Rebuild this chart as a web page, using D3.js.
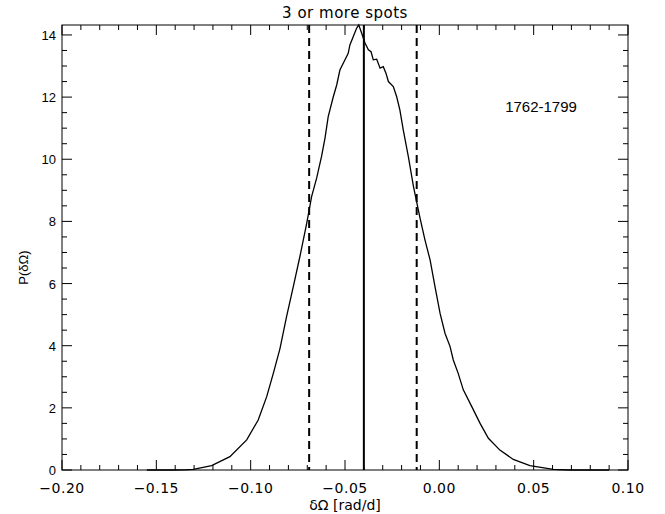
<!DOCTYPE html>
<html>
<head>
  <meta charset="utf-8">
  <script src="https://d3js.org/d3.v7.min.js"></script>
  <style>
    body { margin: 0; background: #fff; }
    text { fill: #000; }
  </style>
</head>
<body>
<script>
  // distribution of delta-Omega
  var dOmega = [-0.155, -0.141, -0.135, -0.1304, -0.1207, -0.111, -0.1021, -0.096, -0.0915, -0.088,
    -0.0845, -0.081, -0.0774, -0.0739, -0.0703, -0.0677, -0.065, -0.0624, -0.0606, -0.0589,
    -0.0562, -0.0544, -0.0527, -0.050, -0.0483, -0.0474, -0.0456, -0.0438, -0.0427, -0.0412,
    -0.0394, -0.0376, -0.0362, -0.035, -0.0332, -0.0314, -0.0297, -0.0283, -0.027, -0.0244,
    -0.0226, -0.0209, -0.0191, -0.0164, -0.0137, -0.0102, -0.0076, -0.0049, -0.0023, 0.0004,
    0.0030, 0.0057, 0.0074, 0.010, 0.0127, 0.0172, 0.0216, 0.026, 0.0321, 0.0392,
    0.048, 0.0604, 0.0693, 0.08, 0.09];
  var prob = [0, 0, 0.005, 0.02, 0.14, 0.43, 0.97, 1.61, 2.36, 3.11,
    3.90, 4.93, 5.90, 6.87, 7.94, 8.80, 9.40, 10.10, 10.68, 11.37,
    12.01, 12.39, 12.87, 13.20, 13.41, 13.68, 13.95, 14.22, 14.32, 14.06,
    13.74, 13.52, 13.46, 13.20, 13.22, 12.93, 12.98, 12.77, 12.50, 12.34,
    12.01, 11.58, 10.94, 10.08, 9.12, 8.10, 7.40, 6.76, 5.90, 5.04,
    4.40, 3.97, 3.54, 3.11, 2.58, 2.04, 1.50, 1.02, 0.64, 0.34,
    0.14, 0.02, 0, 0, 0];

  var median = -0.040;
  var bounds = [-0.069, -0.012];

  var xTicks = [-0.20, -0.15, -0.10, -0.05, 0.00, 0.05, 0.10];
  var yTicks = [0, 2, 4, 6, 8, 10, 12, 14];

  (function () {
    var W = 665, H = 514;
    var pL = 62, pR = 628, pT = 25, pB = 470;

    var svg = d3.select("body").append("svg")
      .attr("width", W).attr("height", H);

    var x = d3.scaleLinear().domain([-0.2, 0.1]).range([pL, pR]);
    var y = d3.scaleLinear().domain([0, 14.32]).range([pB, pT]);

    var hershey = "'DejaVu Sans', sans-serif";
    var helv = "'Liberation Sans', Arial, sans-serif";

    // frame
    svg.append("rect")
      .attr("x", pL).attr("y", pT)
      .attr("width", pR - pL).attr("height", pB - pT)
      .attr("fill", "none").attr("stroke", "#000").attr("stroke-width", 1);

    // ticks, all four sides
    d3.range(0, 31).forEach(function (i) {
      var v = -0.20 + i * 0.01;
      var len = i % 5 === 0 ? 10 : 5;
      svg.append("line").attr("x1", x(v)).attr("x2", x(v))
        .attr("y1", pB).attr("y2", pB - len).attr("stroke", "#000");
      svg.append("line").attr("x1", x(v)).attr("x2", x(v))
        .attr("y1", pT).attr("y2", pT + len).attr("stroke", "#000");
    });
    d3.range(0, 29).forEach(function (i) {
      var v = i * 0.5;
      var len = i % 4 === 0 ? 10 : 5;
      svg.append("line").attr("y1", y(v)).attr("y2", y(v))
        .attr("x1", pL).attr("x2", pL + len).attr("stroke", "#000");
      svg.append("line").attr("y1", y(v)).attr("y2", y(v))
        .attr("x1", pR).attr("x2", pR - len).attr("stroke", "#000");
    });

    // tick labels
    svg.selectAll(".xl").data(xTicks).enter().append("text")
      .attr("x", function (d) { return x(d); })
      .attr("y", pB + 23)
      .attr("text-anchor", "middle")
      .style("font-family", hershey).style("font-size", "14px")
      .style("letter-spacing", "0.5px")
      .text(function (d) { return d3.format(".2f")(d).replace("-", "\u2212"); });

    svg.selectAll(".yl").data(yTicks).enter().append("text")
      .attr("x", pL - 6)
      .attr("y", function (d) { return y(d) + 5; })
      .attr("text-anchor", "end")
      .style("font-family", helv).style("font-size", "13px")
      .text(function (d) { return d; });

    // curve
    var pts = dOmega.map(function (d, i) { return [d, prob[i]]; });
    svg.append("path")
      .datum(pts)
      .attr("fill", "none").attr("stroke", "#000").attr("stroke-width", 1.3)
      .attr("d", d3.line().x(function (d) { return x(d[0]); }).y(function (d) { return y(d[1]); }));

    // median and bounds
    svg.append("line")
      .attr("x1", x(median)).attr("x2", x(median))
      .attr("y1", pT).attr("y2", pB)
      .attr("stroke", "#000").attr("stroke-width", 2);
    bounds.forEach(function (b) {
      svg.append("line")
        .attr("x1", x(b)).attr("x2", x(b))
        .attr("y1", pT).attr("y2", pB)
        .attr("stroke", "#000").attr("stroke-width", 2)
        .attr("stroke-dasharray", "8,5");
    });

    // labels
    svg.append("text")
      .attr("x", (pL + pR) / 2).attr("y", 18)
      .attr("text-anchor", "middle")
      .style("font-family", hershey).style("font-size", "15px")
      .style("letter-spacing", "0.5px")
      .text("3 or more spots");

    svg.append("text")
      .attr("x", (pL + pR) / 2).attr("y", 510)
      .attr("text-anchor", "middle")
      .style("font-family", hershey).style("font-size", "14px")
      .text("\u03b4\u03a9 [rad/d]");

    svg.append("text")
      .attr("transform", "translate(28," + ((pT + pB) / 2 + 20) + ") rotate(-90)")
      .attr("text-anchor", "middle")
      .style("font-family", helv).style("font-size", "13px")
      .text("P(\u03b4\u03a9)");

    svg.append("text")
      .attr("x", 541).attr("y", 112)
      .attr("text-anchor", "middle")
      .style("font-family", helv).style("font-size", "15px")
      .text("1762-1799");
  })();
</script>
</body>
</html>
